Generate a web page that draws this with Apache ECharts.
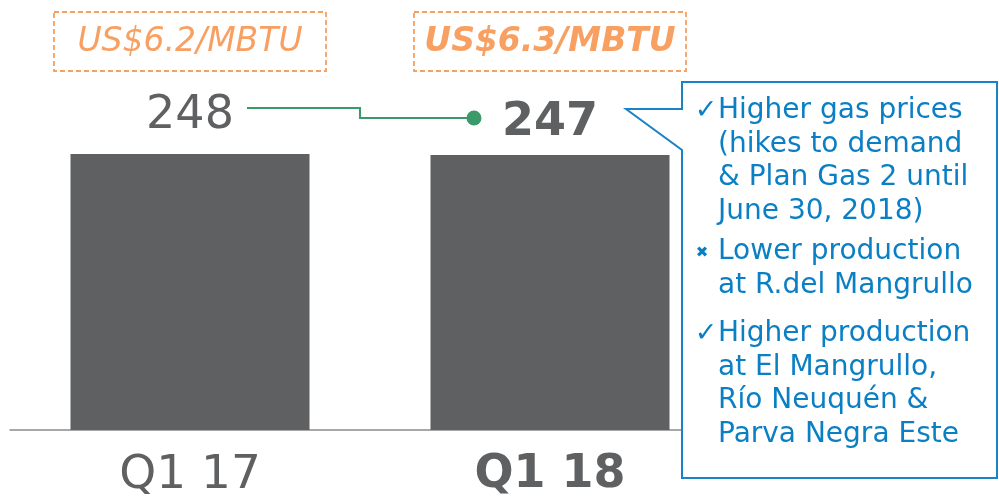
<!DOCTYPE html>
<html>
<head>
<meta charset="utf-8">
<script src="https://cdn.jsdelivr.net/npm/echarts@6/dist/echarts.min.js"></script>
<style>
html,body{margin:0;padding:0;background:#fff;}
#c{width:999px;height:499px;}
</style>
</head>
<body>
<div id="c"></div>
<script>
// ---- data ----
var categories = ['Q1 17', 'Q1 18'];
var volumes = [248, 247];
var prices = ['US$6.2/MBTU', 'US$6.3/MBTU'];
var calloutGroups = [
  {mark: '✓', lines: ['Higher gas prices', '(hikes to demand', '& Plan Gas 2 until', 'June 30, 2018)']},
  {mark: '✖', lines: ['Lower production', 'at R.del Mangrullo']},
  {mark: '✓', lines: ['Higher production', 'at El Mangrullo,', 'Río Neuquén &', 'Parva Negra Este']}
];

var FONT = '"DejaVu Sans", Verdana, sans-serif';
var GRAY = '#5f6062';
var ORANGE = '#f8a062';
var GREEN = '#3a9a69';
var BLUE = '#0b7fc4';

var chart = echarts.init(document.getElementById('c'), null, {renderer: 'canvas'});

var barData = volumes.map(function (v, i) {
  return {
    value: v,
    label: i === 0 ?
      {show: true, position: 'top', distance: 15, fontSize: 46, lineHeight: 46, fontFamily: FONT, color: GRAY, fontWeight: 'normal'} :
      {show: true, position: 'top', distance: 9, fontSize: 46, lineHeight: 46, fontFamily: FONT, color: GRAY, fontWeight: 'bold'}
  };
});

chart.setOption({
  animation: false,
  grid: {left: 10, right: 269, top: 7, bottom: 69, outerBoundsMode: 'none', containLabel: false},
  xAxis: {
    type: 'category',
    data: categories,
    axisLine: {lineStyle: {color: '#8c8c8c', width: 1.5}},
    axisTick: {show: false},
    axisLabel: {
      margin: 22,
      fontFamily: FONT,
      fontSize: 47,
      lineHeight: 47,
      color: GRAY,
      formatter: function (v, i) { return i === 1 ? '{b|' + v + '}' : '{a|' + v + '}'; },
      rich: {
        a: {fontFamily: FONT, fontSize: 47, color: GRAY, fontWeight: 'normal'},
        b: {fontFamily: FONT, fontSize: 46, color: GRAY, fontWeight: 'bold'}
      }
    }
  },
  yAxis: {type: 'value', min: 0, max: 380, show: false, splitLine: {show: false}},
  series: [{
    type: 'bar',
    data: barData,
    barWidth: 239,
    itemStyle: {color: GRAY}
  }]
});

// annotations positioned from the axes
var p0 = chart.convertToPixel({seriesIndex: 0}, [0, volumes[0]]);
var p1 = chart.convertToPixel({seriesIndex: 0}, [1, volumes[1]]);
var midX = (p0[0] + p1[0]) / 2 - 10;
var yA = p0[1] - 46, yB = p1[1] - 37;
var lineStartX = p0[0] + 57, dotX = p1[0] - 76;

var graphics = [];
// price boxes
prices.forEach(function (t, i) {
  var cx = chart.convertToPixel({xAxisIndex: 0}, categories[i]);
  graphics.push({
    type: 'rect', shape: {x: cx - 136, y: 12, width: 272, height: 59},
    style: {fill: 'none', stroke: ORANGE, lineWidth: 1.8, lineDash: [5, 3]}
  });
  graphics.push({
    type: 'text', x: cx, y: 42,
    style: {text: t, fill: ORANGE, font: (i === 1 ? 'italic bold ' : 'italic ') + '33px ' + FONT, align: 'center', verticalAlign: 'middle'}
  });
});
// connector
graphics.push({
  type: 'polyline',
  shape: {points: [[lineStartX, yA], [midX, yA], [midX, yB], [dotX, yB]]},
  style: {stroke: GREEN, lineWidth: 2, fill: 'none'}
});
graphics.push({type: 'circle', shape: {cx: dotX, cy: yB, r: 7.5}, style: {fill: GREEN}});

// callout
graphics.push({
  type: 'polygon', z: 100,
  shape: {points: [[682, 82], [997, 82], [997, 478], [682, 478], [682, 150], [626, 109], [682, 109]]},
  style: {fill: '#fff', stroke: '#1b82c6', lineWidth: 2}
});
var groupTops = [111, 252, 334];
calloutGroups.forEach(function (g, gi) {
  var cy = groupTops[gi];
  graphics.push({
    type: 'text', z: 101, x: gi === 1 ? 702 : 706, y: gi === 1 ? cy + 1 : cy,
    style: {text: g.mark, fill: BLUE, font: (gi === 1 ? 'bold 15px ' : '27px ') + FONT, align: 'center', verticalAlign: 'middle'}
  });
  g.lines.forEach(function (ln, li) {
    graphics.push({
      type: 'text', z: 101, x: 718, y: cy + li * 33.5,
      style: {text: ln, fill: BLUE, font: '28px ' + FONT, align: 'left', verticalAlign: 'middle'}
    });
  });
});

chart.setOption({graphic: graphics});
</script>
</body>
</html>
